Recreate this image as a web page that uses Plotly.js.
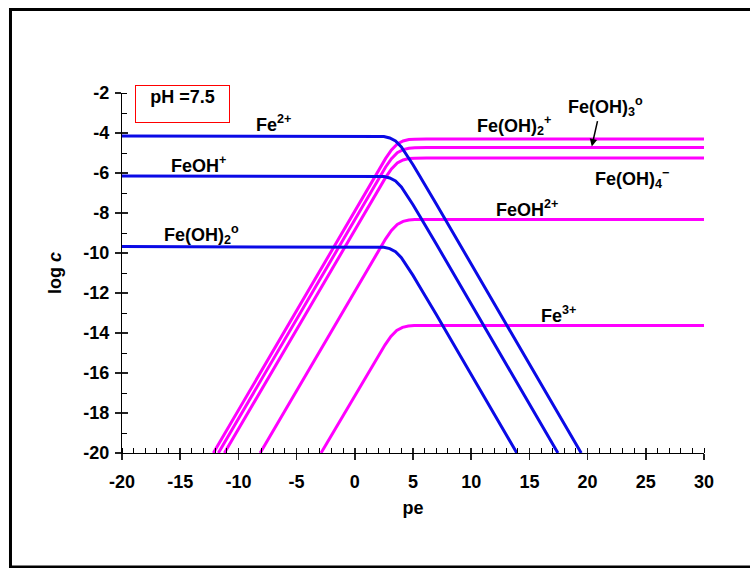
<!DOCTYPE html>
<html>
<head>
<meta charset="utf-8">
<script src="https://cdn.plot.ly/plotly-3.0.1.min.js"></script>
<style>
html,body{margin:0;padding:0;background:#fff;}
#chart{width:750px;height:568px;}
</style>
</head>
<body>
<div id="chart"></div>
<script>
// ---- data (pe, log c) ----
// Fe(II) species (blue)
const fe2Pe     = [-20, 1.0, 2.0, 2.5, 3.0, 3.5, 4.0, 4.5, 5.0, 5.5, 6.0, 7.0, 19.45];
const fe2Log    = [-4.15, -4.15, -4.16, -4.18, -4.25, -4.40, -4.70, -5.12, -5.59, -6.08, -6.57, -7.55, -20];
const feOHPe    = [-20, 1.0, 2.0, 2.5, 3.0, 3.5, 4.0, 4.5, 5.0, 5.5, 6.0, 7.0, 17.45];
const feOHLog   = [-6.15, -6.15, -6.16, -6.18, -6.25, -6.40, -6.70, -7.12, -7.59, -8.08, -8.57, -9.55, -20];
const feOH2Pe   = [-20, 1.0, 2.0, 2.5, 3.0, 3.5, 4.0, 4.5, 5.0, 5.5, 6.0, 7.0, 13.92];
const feOH2Log  = [-9.68, -9.68, -9.69, -9.71, -9.78, -9.93, -10.23, -10.65, -11.12, -11.61, -12.10, -13.08, -20];
// Fe(III) species (magenta)
const feOH2pPe  = [-12.15, 0.15, 1.15, 1.65, 2.15, 2.65, 3.15, 3.65, 4.15, 4.65, 5.15, 6.15, 30];
const feOH2pLog = [-20, -7.70, -6.72, -6.23, -5.74, -5.27, -4.85, -4.55, -4.40, -4.33, -4.31, -4.30, -4.30];
const feOH3Pe   = [-11.72, 0.15, 1.15, 1.65, 2.15, 2.65, 3.15, 3.65, 4.15, 4.65, 5.15, 6.15, 30];
const feOH3Log  = [-20, -8.13, -7.15, -6.66, -6.17, -5.70, -5.28, -4.98, -4.83, -4.76, -4.74, -4.73, -4.73];
const feOH4Pe   = [-11.2, 0.15, 1.15, 1.65, 2.15, 2.65, 3.15, 3.65, 4.15, 4.65, 5.15, 6.15, 30];
const feOH4Log  = [-20, -8.65, -7.67, -7.18, -6.69, -6.22, -5.80, -5.50, -5.35, -5.28, -5.26, -5.25, -5.25];
const feOH2pPe2 = [-8.13, 0.15, 1.15, 1.65, 2.15, 2.65, 3.15, 3.65, 4.15, 4.65, 5.15, 6.15, 30];
const feOHp2Log = [-20, -11.72, -10.74, -10.25, -9.76, -9.29, -8.87, -8.57, -8.42, -8.35, -8.33, -8.32, -8.32];
const fe3Pe     = [-2.9, 0.1, 1.1, 1.6, 2.1, 2.6, 3.1, 3.6, 4.1, 4.6, 5.1, 6.1, 30];
const fe3Log    = [-20, -17.02, -16.04, -15.55, -15.06, -14.59, -14.17, -13.87, -13.72, -13.65, -13.63, -13.62, -13.62];

// tick labels
const xTickVals = [-20, -15, -10, -5, 0, 5, 10, 15, 20, 25, 30];
const xTickText = ['-20', '-15', '-10', '-5', '0', '5', '10', '15', '20', '25', '30'];
const yTickVals = [-20, -18, -16, -14, -12, -10, -8, -6, -4, -2];
const yTickText = ['-20', '-18', '-16', '-14', '-12', '-10', '-8', '-6', '-4', '-2'];

// species labels
const labelText = ['Fe<sup>2+</sup>', 'FeOH<sup>+</sup>', 'Fe(OH)<sub>2</sub><sup>o</sup>',
  'Fe(OH)<sub>2</sub><sup>+</sup>', 'Fe(OH)<sub>3</sub><sup>o</sup>', 'Fe(OH)<sub>4</sub><sup>\u2212</sup>',
  'FeOH<sup>2+</sup>', 'Fe<sup>3+</sup>'];
const labelPe  = [-7.0, -13.4, -13.2, 13.7, 21.5, 23.8, 14.8, 17.5];
const labelLog = [-3.5, -5.55, -9.05, -3.6, -2.65, -6.25, -7.75, -13.05];

const BLUE = '#0a0ae6', MAG = '#ff00ff';
function line(x, y, c) {
  return {x: x, y: y, type: 'scatter', mode: 'lines', line: {color: c, width: 3}, hoverinfo: 'skip', showlegend: false};
}
const traces = [
  line(feOH2pPe, feOH2pLog, MAG), line(feOH3Pe, feOH3Log, MAG), line(feOH4Pe, feOH4Log, MAG),
  line(feOH2pPe2, feOHp2Log, MAG), line(fe3Pe, fe3Log, MAG),
  line(fe2Pe, fe2Log, BLUE), line(feOHPe, feOHLog, BLUE), line(feOH2Pe, feOH2Log, BLUE),
  {x: [], y: [], xaxis: 'x2', yaxis: 'y2', type: 'scatter', mode: 'lines', showlegend: false, hoverinfo: 'skip'}
];

const F = 'Arial, "Liberation Sans", sans-serif';
const annotations = labelText.map((t, i) => ({
  x: labelPe[i], y: labelLog[i], xref: 'x', yref: 'y', text: t, showarrow: false,
  font: {family: F, size: 18, color: '#000', weight: 'bold'}
}));
annotations.push({
  x: -14.78, y: -2.56, xref: 'x', yref: 'y', text: 'pH =7.5', showarrow: false,
  font: {family: F, size: 18, color: '#000', weight: 'bold'},
  bordercolor: '#ff0000', borderwidth: 1, width: 91, height: 34, valign: 'top', borderpad: 1
});
annotations.push({
  x: 20.36, y: -4.67, xref: 'x', yref: 'y', ax: 20.88, ay: -3.33, axref: 'x', ayref: 'y',
  text: '', showarrow: true, arrowhead: 2, arrowsize: 1, arrowwidth: 1.5, arrowcolor: '#000'
});

const tickFont = {family: F, size: 18, color: '#000', weight: 'bold'};
const layout = {
  width: 750, height: 568,
  margin: {l: 122, r: 46, t: 93, b: 115},
  paper_bgcolor: '#fff', plot_bgcolor: '#fff',
  xaxis: {
    range: [-20, 30], tickvals: xTickVals, ticktext: xTickText, showgrid: false, zeroline: false,
    showline: true, linecolor: '#000', linewidth: 1.2, ticks: 'outside', ticklen: 6, tickwidth: 1.5, tickcolor: '#222',
    minor: {ticks: 'inside', ticklen: 5, dtick: 1, tick0: 0, tickwidth: 1, tickcolor: '#000', showgrid: false},
    tickfont: tickFont, ticklabelstandoff: 6,
    title: {text: 'pe', font: {family: F, size: 18, color: '#000', weight: 'bold'}, standoff: 10}
  },
  yaxis: {
    range: [-20, -2], tickvals: yTickVals, ticktext: yTickText, showgrid: false, zeroline: false,
    showline: true, linecolor: '#000', linewidth: 1.2, ticks: 'outside', ticklen: 6, tickwidth: 1.5, tickcolor: '#222',
    minor: {ticks: 'inside', ticklen: 5, dtick: 1, tick0: 0, tickwidth: 1, tickcolor: '#000', showgrid: false},
    tickfont: tickFont, ticklabelstandoff: 2,
    title: {text: 'log <i>c</i>', font: {family: F, size: 18, color: '#000', weight: 'bold'}, standoff: 16}
  },
  xaxis2: {
    overlaying: 'x', anchor: 'y', side: 'bottom', range: [-20, 30], tickvals: xTickVals,
    showticklabels: false, showline: false, showgrid: false, zeroline: false,
    ticks: 'inside', ticklen: 5, tickwidth: 1.5, tickcolor: '#222'
  },
  yaxis2: {
    overlaying: 'y', anchor: 'x', side: 'left', range: [-20, -2], tickvals: yTickVals,
    showticklabels: false, showline: false, showgrid: false, zeroline: false,
    ticks: 'inside', ticklen: 6, tickwidth: 1.5, tickcolor: '#222'
  },
  annotations: annotations,
  shapes: [{
    type: 'rect', xref: 'paper', yref: 'paper',
    x0: -0.1916, x1: 1.1, y0: -0.3167, y1: 1.2319,
    line: {color: '#000', width: 3}, fillcolor: 'rgba(0,0,0,0)', layer: 'above'
  }]
};

Plotly.newPlot('chart', traces, layout, {staticPlot: true, displayModeBar: false});
</script>
</body>
</html>
